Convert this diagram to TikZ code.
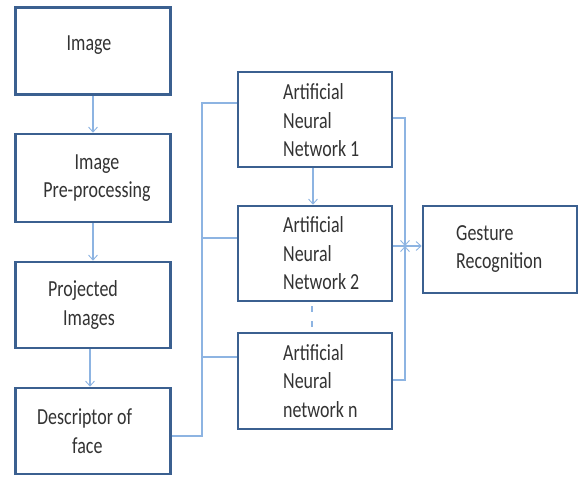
\documentclass[tikz,border=0pt]{standalone}
\usepackage{fontspec}
\setmainfont{Carlito}[FakeStretch=0.78]
\usetikzlibrary{arrows.meta}
\definecolor{boxline}{HTML}{3B6090}
\definecolor{wire}{HTML}{8DB4E2}
\definecolor{ink}{HTML}{333333}
\tikzset{
  stage/.style={draw=boxline, line width=2.6pt, fill=white, inner sep=0pt},
  caption/.style={font=\fontsize{23}{28.5}\selectfont, text=ink, inner sep=0pt},
  lcaption/.style={caption, align=left, anchor=west},
  ccaption/.style={caption, align=center},
  wireline/.style={draw=wire, line width=1.1pt},
  flow/.style={wireline, -{Straight Barb[length=5pt,width=9pt,line width=0.9pt]}}
}
\begin{document}
\begin{tikzpicture}[x=1pt, y=-1pt]
\useasboundingbox (0,0) rectangle (579,477);

% left column
\node[stage, minimum width=155pt, minimum height=87pt] (img) at (93,51) {};
\node[stage, minimum width=155pt, minimum height=88pt] (pre) at (93,178) {};
\node[stage, minimum width=155pt, minimum height=86pt] (proj) at (93,305) {};
\node[stage, minimum width=155pt, minimum height=86pt] (desc) at (93,431) {};

% network column
\node[stage, minimum width=154pt, minimum height=95pt] (ann1) at (315,119.5) {};
\node[stage, minimum width=154pt, minimum height=95pt] (ann2) at (315,253.5) {};
\node[stage, minimum width=154pt, minimum height=96pt] (annn) at (315,381) {};

% output
\node[stage, minimum width=154pt, minimum height=87pt] (gest) at (500,249.5) {};

% captions
\node[ccaption] (timg) at (89,45) {Image};
\node[ccaption] (tpre) at (97,178) {Image\\Pre-processing};
\node[lcaption] (tproj) at (48,305) {Projected\\\hspace*{15pt}Images};
\node[lcaption] (tdesc) at (37,431) {Descriptor of\\\hspace*{35pt}face};
\node[lcaption] (tann1) at (283,120.5) {Artificial\\Neural\\Network 1};
\node[lcaption] (tann2) at (283,253.5) {Artificial\\Neural\\Network 2};
\node[lcaption] (tannn) at (283,381) {Artificial\\Neural\\network n};
\node[lcaption] (tgest) at (456,249) {Gesture\\Recognition};

% junction points of the bus lines
\coordinate (busL) at (202,0);
\coordinate (busR) at (405,0);
\coordinate (join) at (405,246);

% pipeline arrows
\draw[flow] (img) -- (pre);
\draw[flow] (pre) -- (proj);
\draw[flow] (proj.south -| 90,0) -- (desc.north -| 90,0);

% descriptor feeds every network
\draw[wireline] (desc.east |- 0,436) -| (busL |- 0,103) -- (ann1.west |- 0,103);
\draw[wireline] (busL |- 0,238) -- (ann2.west |- 0,238);
\draw[wireline] (busL |- 0,357) -- (annn.west |- 0,357);

% between the networks
\draw[flow] (ann1.south -| 313,0) -- (ann2.north -| 313,0);
\draw[wireline, dash pattern=on 6pt off 9pt, dash phase=-4pt] (ann2.south -| 312,0) -- (annn.north -| 312,0);

% networks merge into the recognition stage
\draw[flow] (ann1.east |- 0,118) -| (join);
\draw[flow] (annn.east |- 0,380) -| (join);
\draw[flow] (ann2.east |- join) -- (gest.west |- join);
\end{tikzpicture}
\end{document}
